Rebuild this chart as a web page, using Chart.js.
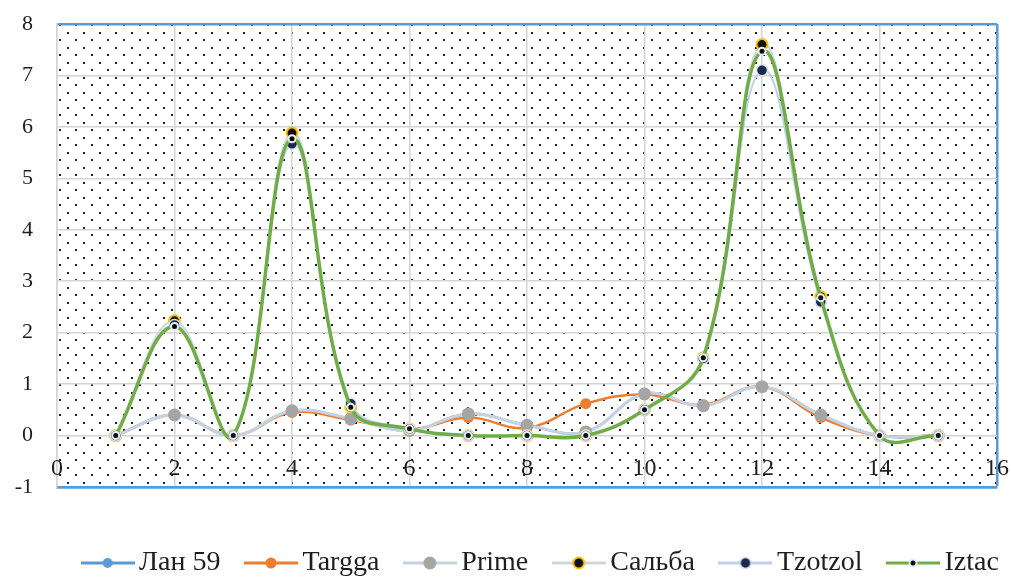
<!DOCTYPE html>
<html>
<head>
<meta charset="utf-8">
<script src="https://cdn.jsdelivr.net/npm/chart.js@4.4.1/dist/chart.umd.min.js"></script>
<style>
    html, body { margin: 0; padding: 0; background: #fff; }
</style>
</head>
<body>
<canvas id="chart" width="1011" height="578"></canvas>
<script>
// values
const xValues = [1, 2, 3, 4, 5, 6, 7, 8, 9, 10, 11, 12, 13, 14, 15];
const lan59   = [0, 0.4, 0, 0.48, 0.33, 0.1, 0.42, 0.2, 0.07, 0.81, 0.58, 0.95, 0.4, 0, 0];
const targga  = [0, 0.4, 0, 0.45, 0.3, 0.12, 0.35, 0.15, 0.62, 0.8, 0.6, 0.95, 0.35, 0, 0];
const prime   = [0, 0.4, 0, 0.48, 0.33, 0.1, 0.42, 0.2, 0.07, 0.81, 0.58, 0.95, 0.4, 0, 0];
const salba   = [0, 2.23, 0, 5.88, 0.55, 0.13, 0, 0, 0, 0.5, 1.51, 7.6, 2.7, 0, 0];
const tzotzol = [0, 2.15, 0, 5.67, 0.62, 0.13, 0, 0, 0, 0.5, 1.5, 7.1, 2.6, 0, 0];
const iztac   = [0, 2.12, 0, 5.77, 0.55, 0.13, 0, 0, 0, 0.5, 1.51, 7.47, 2.68, 0, 0];

const seriesNames = ["Лан 59", "Targga", "Prime", "Сальба", "Tzotzol", "Iztac"];
const seriesValues = [lan59, targga, prime, salba, tzotzol, iztac];

const xTickValues = [0, 2, 4, 6, 8, 10, 12, 14, 16];
const yTickValues = [-1, 0, 1, 2, 3, 4, 5, 6, 7, 8];

const blue = "#5b9bd5";
const gridGray = "#d4d4d4";
const textColor = "#1e1e1e";
const serif = "'Liberation Serif', 'DejaVu Serif', serif";

const styles = [
    { line: "#5b9bd5", width: 2.5, fill: "#5b9bd5", stroke: "#5b9bd5", r: 5, bw: 0 },
    { line: "#ed7d31", width: 2.5, fill: "#ed7d31", stroke: "#ed7d31", r: 5.5, bw: 0 },
    { line: "#c5d2e2", width: 3, fill: "#a5a5a5", stroke: "#a5a5a5", r: 6.5, bw: 0 },
    { line: "#cfd6de", width: 2, fill: "#111111", stroke: "#ffc000", r: 5.5, bw: 2 },
    { line: "#bfd0ea", width: 2, fill: "#1c2a4a", stroke: "#d6e0f0", r: 5.5, bw: 1.5 },
    { line: "#70ad47", width: 3.5, fill: "#0a0a0a", stroke: "#e8eef6", r: 3.5, bw: 2 },
];

function legendIcon(s) {
    const c = document.createElement("canvas");
    c.width = 54;
    c.height = 18;
    const g = c.getContext("2d");
    g.strokeStyle = s.line;
    g.lineWidth = 3;
    g.beginPath();
    g.moveTo(0, 9);
    g.lineTo(54, 9);
    g.stroke();
    g.beginPath();
    g.arc(27, 9, s.r, 0, Math.PI * 2);
    g.fillStyle = s.fill;
    g.fill();
    if (s.bw) {
        g.lineWidth = s.bw;
        g.strokeStyle = s.stroke;
        g.stroke();
    }
    return c;
}

function dotPattern() {
    const c = document.createElement("canvas");
    c.width = 16;
    c.height = 15;
    const g = c.getContext("2d");
    g.fillStyle = "#ffffff";
    g.fillRect(0, 0, 16, 15);
    g.fillStyle = "#222222";
    g.fillRect(3, 2, 2, 2);
    g.fillRect(11, 9, 2, 2);
    return document.getElementById("chart").getContext("2d").createPattern(c, "repeat");
}

const plotBackground = {
    id: "plotBackground",
    beforeDraw(chart) {
        const { ctx, chartArea } = chart;
        ctx.save();
        ctx.fillStyle = dotPattern();
        ctx.fillRect(chartArea.left, chartArea.top, chartArea.width, chartArea.height);
        ctx.restore();
    },
};

// x labels sit inside the plot, above the bottom border
const xLabels = {
    id: "xLabels",
    afterDraw(chart) {
        const { ctx, chartArea, scales } = chart;
        ctx.save();
        ctx.font = "24px " + serif;
        ctx.fillStyle = textColor;
        ctx.textAlign = "center";
        ctx.textBaseline = "middle";
        scales.x.ticks.forEach((t) => {
            ctx.fillText(String(t.value), scales.x.getPixelForValue(t.value), chartArea.bottom - 18);
        });
        ctx.restore();
    },
};

const legendShift = {
    id: "legendShift",
    afterLayout(chart) {
        chart.legend.left += 46;
        chart.legend.right += 46;
    },
};

const datasets = seriesNames.map((name, i) => ({
    label: name,
    data: xValues.map((x, j) => ({ x: x, y: seriesValues[i][j] })),
    borderColor: styles[i].line,
    borderWidth: styles[i].width,
    backgroundColor: styles[i].fill,
    pointBackgroundColor: styles[i].fill,
    pointBorderColor: styles[i].stroke,
    pointBorderWidth: styles[i].bw,
    pointRadius: styles[i].r,
    tension: 0.4,
    order: seriesNames.length - i,
}));

new Chart(document.getElementById("chart"), {
    type: "line",
    data: { datasets: datasets },
    plugins: [plotBackground, xLabels, legendShift],
    options: {
        responsive: false,
        devicePixelRatio: 1,
        animation: false,
        layout: { padding: { top: 24, right: 14, left: 0, bottom: -9 } },
        plugins: {
            tooltip: { enabled: false },
            legend: {
                position: "bottom",
                labels: {
                    usePointStyle: true,
                    pointStyleWidth: 35,
                    padding: 33,
                    color: textColor,
                    font: { family: serif, size: 28 },
                    sort: (a, b) => a.datasetIndex - b.datasetIndex,
                    generateLabels: (chart) =>
                        chart.data.datasets.map((ds, i) => ({
                            text: ds.label,
                            datasetIndex: i,
                            pointStyle: legendIcon(styles[i]),
                            fillStyle: "transparent",
                            strokeStyle: "transparent",
                            lineWidth: 0,
                            fontColor: textColor,
                            hidden: false,
                        })),
                },
            },
        },
        scales: {
            x: {
                type: "linear",
                min: 0,
                max: 16,
                afterBuildTicks: (s) => { s.ticks = xTickValues.map((v) => ({ value: v })); },
                afterFit: (s) => { s.height = 29; },
                ticks: { display: false },
                grid: {
                    drawTicks: false,
                    lineWidth: (c) => (c.tick && c.tick.value === 16 ? 2.5 : 1.5),
                    color: (c) => (c.tick && c.tick.value === 16 ? blue : gridGray),
                },
                border: { color: blue, width: 2.5 },
            },
            y: {
                min: -1,
                max: 8,
                afterBuildTicks: (s) => { s.ticks = yTickValues.map((v) => ({ value: v })); },
                afterFit: (s) => {
                    s.width = 57;
                    s.paddingTop = 0;
                    s.paddingBottom = 0;
                },
                ticks: {
                    padding: 24,
                    color: textColor,
                    font: { family: serif, size: 22 },
                },
                grid: {
                    drawTicks: false,
                    lineWidth: (c) => (c.tick && (c.tick.value === 8 || c.tick.value === -1) ? 2.5 : 1.5),
                    color: (c) => (c.tick && (c.tick.value === 8 || c.tick.value === -1) ? blue : gridGray),
                },
                border: { color: gridGray, width: 1.5 },
            },
        },
    },
});
</script>
</body>
</html>
